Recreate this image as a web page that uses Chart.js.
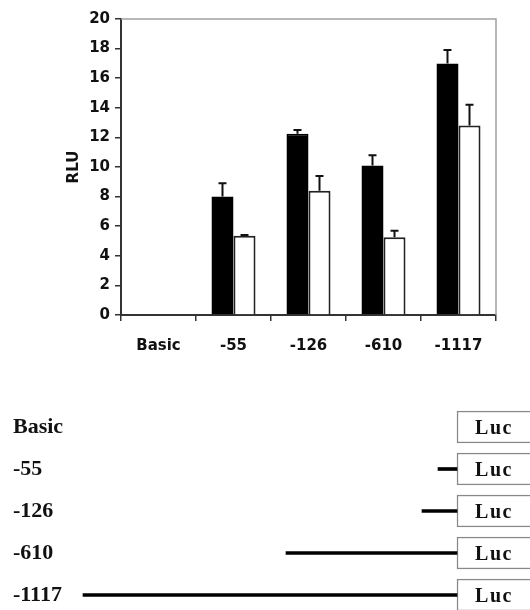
<!DOCTYPE html>
<html><head><meta charset="utf-8">
<script src="https://cdn.jsdelivr.net/npm/chart.js@4.4.0/dist/chart.umd.min.js"></script>
<style>
html,body{margin:0;padding:0;background:#fff;width:530px;height:610px;overflow:hidden;}
#c1{position:absolute;left:0;top:0;}
#c2{position:absolute;left:0;top:406px;}
</style></head><body>
<canvas id="c1" width="530" height="370"></canvas>
<canvas id="c2" width="530" height="210"></canvas>
<script>
// ---- data ----
const categories = ['Basic', '-55', '-126', '-610', '-1117'];
const seriesBlack = [null, 8.0, 12.25, 10.1, 17.0];
const errBlack    = [null, 0.9, 0.25, 0.7, 0.9];
const seriesWhite = [null, 5.35, 8.4, 5.25, 12.8];
const errWhite    = [null, 0.05, 1.0, 0.45, 1.4];
const yTicks = [0, 2, 4, 6, 8, 10, 12, 14, 16, 18, 20];
const yTitle = 'RLU';

// schematic of reporter constructs (positions in schematic units, Luc starts at 0)
const constructs = ['Basic', '-55', '-126', '-610', '-1117'];
const promoterStart = [null, -57, -105, -513, -1122];
const lucStart = 0;
const lucEnd = 400;
const reporterLabel = 'Luc';

// ---- plugins ----
const errorBars = {
  id: 'errorBars',
  afterDatasetsDraw(chart) {
    const ctx = chart.ctx, y = chart.scales.y;
    chart.data.datasets.forEach((ds, i) => {
      const meta = chart.getDatasetMeta(i);
      meta.data.forEach((el, j) => {
        const v = ds.data[j], e = ds.errors[j];
        if (v == null || e == null) return;
        const x = el.x, yTop = y.getPixelForValue(v + e), yBase = y.getPixelForValue(v);
        ctx.save();
        ctx.strokeStyle = '#111';
        ctx.lineWidth = 2;
        ctx.beginPath();
        ctx.moveTo(x, yBase); ctx.lineTo(x, yTop);
        ctx.moveTo(x - 4, yTop); ctx.lineTo(x + 4, yTop);
        ctx.stroke();
        ctx.restore();
      });
    });
  }
};
const frame = {
  id: 'frame',
  beforeDatasetsDraw(chart) {
    const {left, right, top, bottom} = chart.chartArea;
    const ctx = chart.ctx;
    ctx.save();
    ctx.strokeStyle = '#a0a0a0';
    ctx.lineWidth = 1.5;
    ctx.beginPath();
    ctx.moveTo(left, top); ctx.lineTo(right, top); ctx.lineTo(right, bottom);
    ctx.stroke();
    ctx.restore();
  }
};

const sans = 'DejaVu Sans';
new Chart(document.getElementById('c1'), {
  type: 'bar',
  data: {
    labels: categories,
    datasets: [
      {data: seriesBlack, errors: errBlack, backgroundColor: '#000', borderColor: '#000', borderWidth: 1.5, borderSkipped: 'bottom'},
      {data: seriesWhite, errors: errWhite, backgroundColor: '#fff', borderColor: '#222', borderWidth: 2, borderSkipped: 'bottom'}
    ]
  },
  options: {
    responsive: false, animation: false, devicePixelRatio: 1,
    layout: {padding: {top: 19, right: 34, left: 0, bottom: 0}},
    datasets: {bar: {categoryPercentage: 0.587, barPercentage: 1}},
    plugins: {legend: {display: false}, tooltip: {enabled: false}},
    scales: {
      x: {
        grid: {offset: true, drawOnChartArea: false, drawTicks: true, tickLength: 6, color: '#333', lineWidth: 1.5},
        border: {display: true, color: '#333', width: 2},
        ticks: {color: '#111', padding: 16, font: {family: sans, size: 15, weight: 'bold'}},
        afterFit(s) { s.height = 55; }
      },
      y: {
        min: 0, max: 20,
        afterBuildTicks(s) { s.ticks = yTicks.map(v => ({value: v})); },
        grid: {drawOnChartArea: false, drawTicks: true, tickLength: 6, color: '#333', lineWidth: 1.5},
        border: {display: true, color: '#333', width: 2},
        ticks: {color: '#111', padding: 5, font: {family: sans, size: 15, weight: 'bold'}},
        title: {display: true, text: yTitle, color: '#111', font: {family: sans, size: 15, weight: 'bold'}, padding: {top: 65, bottom: 0}},
        afterFit(s) { s.width = 121; }
      }
    }
  },
  plugins: [frame, errorBars]
});

const lucLabels = {
  id: 'lucLabels',
  afterDatasetsDraw(chart) {
    const ctx = chart.ctx, xs = chart.scales.x;
    const meta = chart.getDatasetMeta(1);
    ctx.save();
    ctx.fillStyle = '#111';
    ctx.font = 'bold 20px "Liberation Serif"';
    ctx.textAlign = 'center';
    ctx.textBaseline = 'middle';
    if ('letterSpacing' in ctx) ctx.letterSpacing = '1.5px';
    meta.data.forEach(el => {
      ctx.fillText(reporterLabel, xs.getPixelForValue(lucStart) + 37, el.y + 2);
    });
    ctx.restore();
  }
};

new Chart(document.getElementById('c2'), {
  type: 'bar',
  data: {
    labels: constructs,
    datasets: [
      {data: promoterStart.map(s => s == null ? null : [s, lucStart]), backgroundColor: '#000', borderWidth: 0, barThickness: 3, grouped: false},
      {data: constructs.map(() => [lucStart, lucEnd]), backgroundColor: '#fff', borderColor: '#888', borderWidth: 1.5, borderSkipped: false, barThickness: 32, grouped: false}
    ]
  },
  options: {
    indexAxis: 'y',
    responsive: false, animation: false, devicePixelRatio: 1,
    layout: {padding: {left: 13, right: 0, top: 0, bottom: 0}},
    plugins: {legend: {display: false}, tooltip: {enabled: false}},
    scales: {
      x: {display: false, min: -1161, max: 219},
      y: {
        grid: {display: false}, border: {display: false},
        ticks: {crossAlign: 'far', padding: 0, color: '#111', font: {family: 'Liberation Serif', size: 22, weight: 'bold'}},
        afterFit(s) { s.width = 57; s.paddingTop = 0; s.paddingBottom = 0; }
      }
    }
  },
  plugins: [lucLabels]
});
</script>
</body></html>
